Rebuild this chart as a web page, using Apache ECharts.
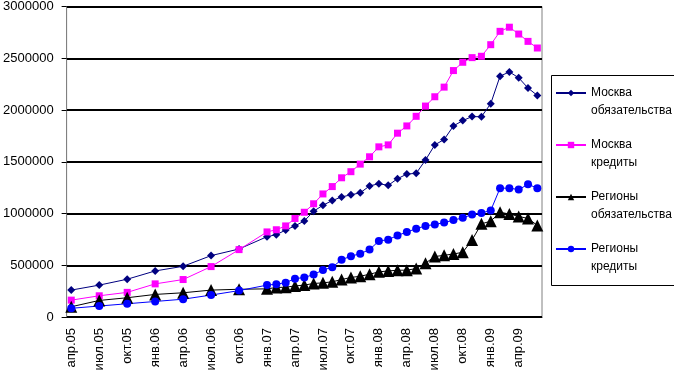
<!DOCTYPE html>
<html>
<head>
<meta charset="utf-8">
<script src="https://cdn.jsdelivr.net/npm/echarts@6/dist/echarts.min.js"></script>
<style>
  html, body { margin: 0; padding: 0; background: #fff; }
  #chart { width: 674px; height: 383px; }
</style>
</head>
<body>
<div id="chart"></div>
<script>
// monthly categories, апр.05 .. июн.09
const months = [
  "апр.05", "май.05", "июн.05", "июл.05", "авг.05", "сен.05", "окт.05", "ноя.05", "дек.05",
  "янв.06", "фев.06", "мар.06", "апр.06", "май.06", "июн.06", "июл.06", "авг.06", "сен.06",
  "окт.06", "ноя.06", "дек.06", "янв.07", "фев.07", "мар.07", "апр.07", "май.07", "июн.07",
  "июл.07", "авг.07", "сен.07", "окт.07", "ноя.07", "дек.07", "янв.08", "фев.08", "мар.08",
  "апр.08", "май.08", "июн.08", "июл.08", "авг.08", "сен.08", "окт.08", "ноя.08", "дек.08",
  "янв.09", "фев.09", "мар.09", "апр.09", "май.09", "июн.09"
];

const seriesNames = ["Москва обязательства", "Москва кредиты", "Регионы обязательства", "Регионы кредиты"];

// quarterly until окт.06, monthly from янв.07
const moscowLiabilities = [
  260000, null, null, 308000, null, null, 365000, null, null,
  445000, null, null, 490000, null, null, 593000, null, null,
  657000, null, null, 776000, 795000, 840000, 880000, 928000, 1022000,
  1080000, 1125000, 1160000, 1180000, 1200000, 1266000, 1288000, 1272000, 1336000,
  1381000, 1388000, 1516000, 1663000, 1715000, 1846000, 1898000, 1936000, 1935000,
  2061000, 2327000, 2368000, 2311000, 2212000, 2141000
];

const moscowCredits = [
  163000, null, null, 205000, null, null, 238000, null, null,
  320000, null, null, 362000, null, null, 487000, null, null,
  651000, null, null, 822000, 843000, 880000, 952000, 1012000, 1094000,
  1189000, 1260000, 1345000, 1404000, 1477000, 1548000, 1644000, 1663000, 1776000,
  1846000, 1939000, 2038000, 2128000, 2221000, 2381000, 2461000, 2506000, 2519000,
  2631000, 2760000, 2800000, 2734000, 2663000, 2599000
];

const regionsLiabilities = [
  99000, null, null, 160000, null, null, 186000, null, null,
  218000, null, null, 234000, null, null, 260000, null, null,
  268000, null, null, 272000, 285000, 288000, 300000, 308000, 324000,
  330000, 340000, 362000, 382000, 394000, 413000, 436000, 445000, 452000,
  452000, 468000, 520000, 584000, 596000, 609000, 625000, 744000, 900000,
  926000, 1012000, 995000, 972000, 952000, 885000
];

const regionsCredits = [
  84000, null, null, 106000, null, null, 128000, null, null,
  150000, null, null, 172000, null, null, 212000, null, null,
  255000, null, null, 308000, 317000, 332000, 370000, 382000, 410000,
  455000, 480000, 554000, 587000, 612000, 651000, 734000, 747000, 788000,
  821000, 853000, 880000, 894000, 912000, 936000, 958000, 990000, 1005000,
  1029000, 1245000, 1245000, 1231000, 1282000, 1245000
];

const chart = echarts.init(document.getElementById("chart"));

const font = "Liberation Sans, Arial, sans-serif";

function makeSeries(name, data, color, symbol, size) {
  return {
    name: name,
    type: "line",
    data: data,
    connectNulls: true,
    symbol: symbol,
    symbolSize: size,
    showAllSymbol: true,
    lineStyle: { color: color, width: 1 },
    itemStyle: { color: color },
    emphasis: { disabled: true }
  };
}

const option = {
  animation: false,
  backgroundColor: "#fff",
  grid: {
    left: 66, right: 132, top: 5, bottom: 66,
    show: true, borderColor: "#808080", borderWidth: 1
  },
  legend: {
    orient: "vertical",
    left: 555, top: 66,
    padding: 0,
    itemWidth: 30, itemHeight: 8, itemGap: -2,
    data: seriesNames,
    // blank first line so the icon sits beside the first text line
    formatter: (n) => " \n" + n.replace(" ", "\n"),
    textStyle: { fontFamily: font, fontSize: 12, color: "#000", lineHeight: 18 }
  },
  graphic: [{
    type: "rect",
    shape: { x: 551.5, y: 75.5, width: 140, height: 210 },
    style: { fill: "none", stroke: "#000", lineWidth: 1 },
    silent: true
  }],
  xAxis: {
    type: "category",
    data: months,
    boundaryGap: true,
    axisLine: { lineStyle: { color: "#000", width: 1 } },
    axisTick: { interval: 2, length: 5, lineStyle: { color: "#000" } },
    axisLabel: {
      interval: 2, rotate: 90, margin: 11,
      fontFamily: font, fontSize: 13, color: "#000"
    },
    splitLine: { show: false }
  },
  yAxis: {
    type: "value",
    min: 0, max: 3000000, interval: 500000,
    axisLine: { show: true, lineStyle: { color: "#808080" } },
    axisTick: { show: true, length: 5, lineStyle: { color: "#000" } },
    axisLabel: {
      margin: 13, fontFamily: font, fontSize: 13, color: "#000",
      formatter: (v) => String(v)
    },
    splitLine: { lineStyle: { color: "#000", width: 2 } }
  },
  series: [
    makeSeries(seriesNames[0], moscowLiabilities, "#000080", "diamond", 8),
    makeSeries(seriesNames[1], moscowCredits, "#FF00FF", "rect", 7),
    makeSeries(seriesNames[2], regionsLiabilities, "#000000", "triangle", 12),
    makeSeries(seriesNames[3], regionsCredits, "#0000FF", "circle", 8)
  ]
};

chart.setOption(option);
</script>
</body>
</html>
